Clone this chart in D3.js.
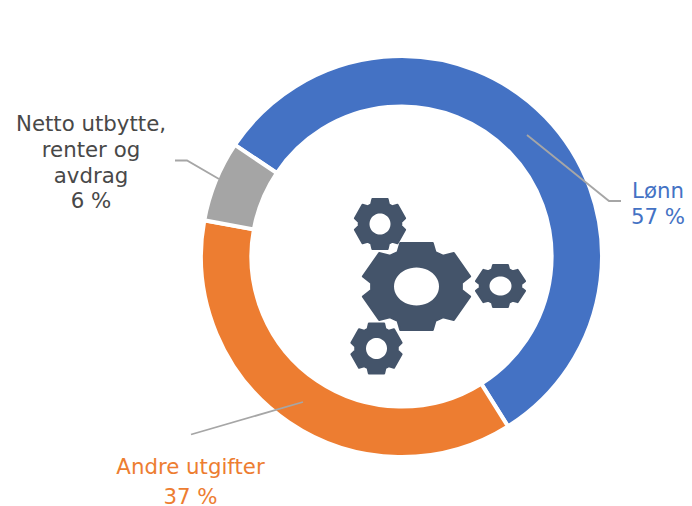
<!DOCTYPE html>
<html><head><meta charset="utf-8">
<script src="https://cdn.jsdelivr.net/npm/d3@7"></script>
<style>html,body{margin:0;background:#fff}svg{display:block}text{font-family:"DejaVu Sans",Verdana,sans-serif}</style>
</head><body><svg id="c" width="692" height="506"></svg>
<script>
const categories = ["Lønn", "Andre utgifter", "Netto utbytte, renter og avdrag"];
const values = [56.7, 36.8, 6.5];
const colors = ["#4472C4", "#ED7D31", "#A5A5A5"];
const labelLines = [["Lønn", "57 %"], ["Andre utgifter", "37 %"], ["Netto utbytte,", "renter og", "avdrag", "6 %"]];
const labelColors = ["#4472C4", "#ED7D31", "#484848"];
const labelX = [658, 190.5, 91];
const labelY = [[197.5, 223.5], [474, 504], [131, 157, 183, 208]];
const leaders = [
  [[527, 135], [609, 201], [621, 201]],
  [[303, 402], [191, 434.5]],
  [[219, 179], [187, 160.5], [175, 160.5]]
];
const gears = [
  {x: 416.5, y: 286.5, rx: 52.5, ry: 43.5, hx: 22.5, hy: 19},
  {x: 380, y: 224, rx: 24.6, ry: 25, hx: 10.5, hy: 10.5},
  {x: 500.5, y: 286, rx: 24, ry: 21, hx: 11, hy: 9.5},
  {x: 376.5, y: 348.5, rx: 24.6, ry: 25, hx: 10.5, hy: 10.5}
];

const svg = d3.select("#c");
const cx = 401.5, cy = 256.5, rOuter = 200.5, rInner = 150.1;
const startA = -56.2 * Math.PI / 180;
const pie = d3.pie().sort(null).value(d => d).startAngle(startA).endAngle(startA + 2 * Math.PI);
const arc = d3.arc().innerRadius(rInner).outerRadius(rOuter);

svg.append("g").attr("transform", `translate(${cx},${cy})`)
  .selectAll("path").data(pie(values)).join("path")
  .attr("d", arc)
  .attr("fill", (d, i) => colors[i])
  .attr("stroke", "#fff").attr("stroke-width", 4);

const line = d3.line();
svg.selectAll("path.leader").data(leaders).join("path")
  .attr("class", "leader").attr("d", line)
  .attr("fill", "none").attr("stroke", "#A6A6A6").attr("stroke-width", 1.8);

// gear icon
function gearPath(g) {
  const pts = [];
  for (let k = 0; k < 6; k++) {
    const t = k * Math.PI / 3;
    const add = (u, r) => pts.push([g.x + g.rx * (Math.sin(t) * r + Math.cos(t) * u), g.y + g.ry * (-Math.cos(t) * r + Math.sin(t) * u)]);
    add(-0.36, 0.79); add(-0.31, 1); add(0.31, 1); add(0.36, 0.79);
  }
  const hole = d3.range(48).map(i => {
    const a = i / 48 * 2 * Math.PI;
    return [g.x + g.hx * Math.cos(a), g.y + g.hy * Math.sin(a)];
  });
  const closed = d3.line().curve(d3.curveLinearClosed);
  return closed(pts) + closed(hole);
}
svg.selectAll("path.gear").data(gears).join("path")
  .attr("class", "gear").attr("d", gearPath)
  .attr("fill", "#44546A").attr("fill-rule", "evenodd");
svg.selectAll("path.gearEdge").data(gears).join("path")
  .attr("class", "gearEdge")
  .attr("d", g => gearPath(g).split("Z")[0] + "Z")
  .attr("fill", "none").attr("stroke", "#44546A").attr("stroke-width", 2).attr("stroke-linejoin", "round");

labelLines.forEach((ls, i) => {
  svg.append("text").attr("text-anchor", "middle").attr("font-size", 21.3).attr("fill", labelColors[i])
    .selectAll("tspan").data(ls).join("tspan")
    .attr("x", labelX[i]).attr("y", (d, j) => labelY[i][j]).text(d => d);
});
</script></body></html>
